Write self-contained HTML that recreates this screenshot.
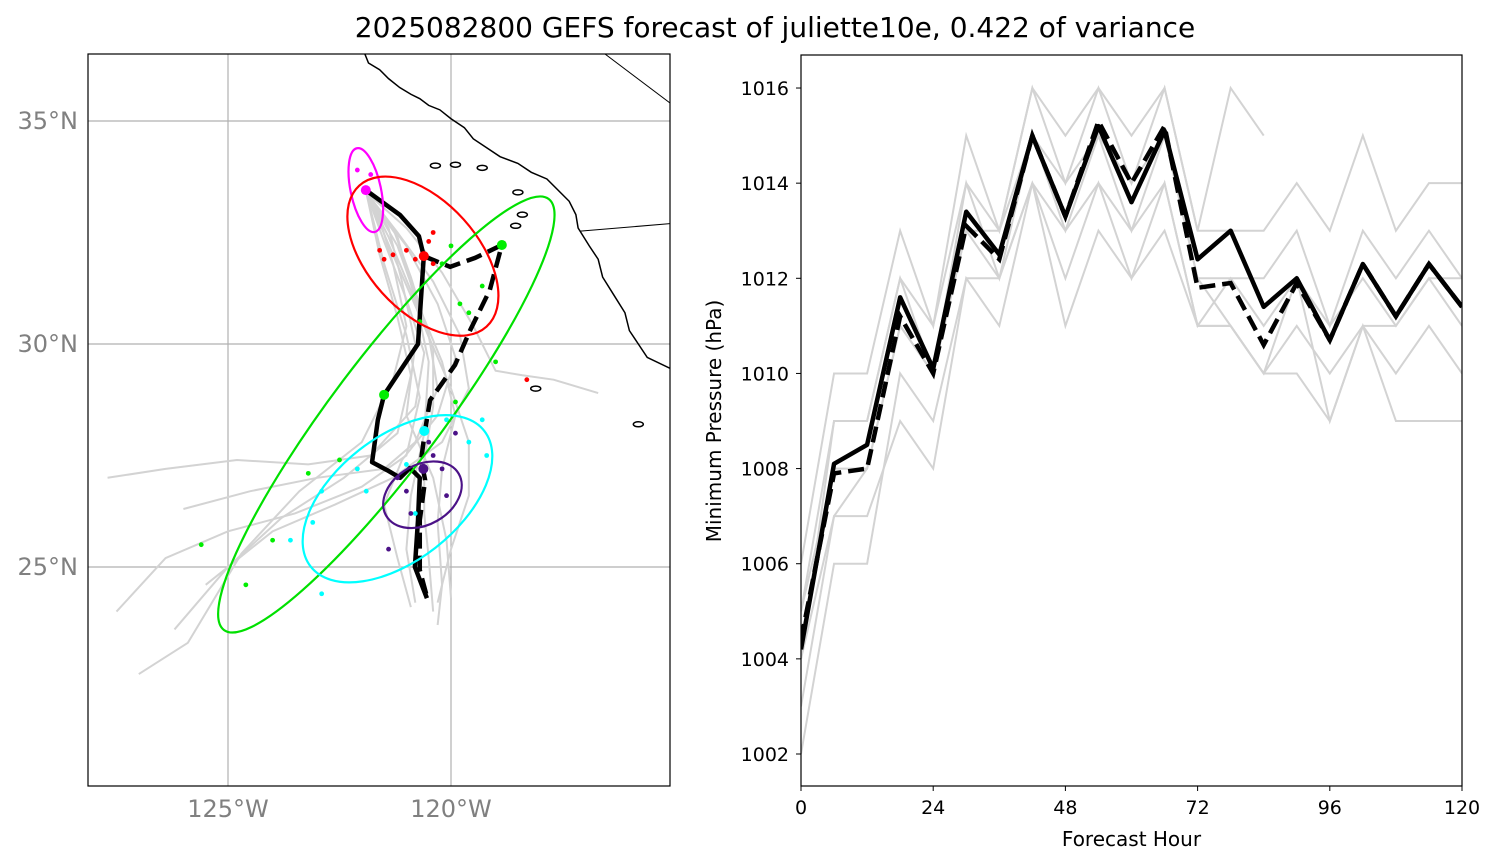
<!DOCTYPE html>
<html><head><meta charset="utf-8"><style>
html,body{margin:0;padding:0;background:#fff;}
svg{display:block;font-family:"DejaVu Sans","Liberation Sans",sans-serif;}
</style></head><body>
<svg id="fig" width="1496" height="865" viewBox="0 0 1496 865">
<text x="775" y="37" text-anchor="middle" font-size="28">2025082800 GEFS forecast of juliette10e, 0.422 of variance</text>
<g id="map"></g>
<g id="pres"></g>
</svg>
<script>
// ---------- MAP DATA ----------
const lonTicks=[-125,-120];
const latTicks=[25,30,35];
const solidLon=[-121.91,-121.14,-120.72,-120.61,-120.74,-121.50,-121.64,-121.77,-121.43,-121.14,-120.92,-120.70,-120.74,-120.81,-120.54];
const solidLat=[33.45,32.89,32.42,31.97,30.0,28.86,28.30,27.35,27.17,27.0,27.22,27.0,26.05,25.0,24.30];
const dashLon=[-120.61,-120.02,-119.46,-118.86,-119.13,-119.57,-119.91,-120.47,-120.58,-120.67,-120.58,-120.70,-120.70,-120.52];
const dashLat=[31.97,31.73,31.93,32.22,31.21,30.31,29.53,28.74,28.07,27.40,26.95,26.05,24.93,24.26];
const grayTracks=[
 [[-121.9,33.4],[-121.3,32.6],[-120.9,31.5],[-120.5,30.2],[-120.3,29.0],[-120.8,27.8],[-121.5,27.2],[-123.0,27.0],[-124.5,26.7],[-126.0,26.3]],
 [[-121.9,33.4],[-121.2,32.5],[-120.4,31.4],[-119.8,30.2],[-119.6,29.0],[-120.2,27.8],[-121.3,27.0],[-122.6,26.4],[-124.0,25.8],[-125.5,24.6]],
 [[-121.9,33.4],[-121.5,32.3],[-121.0,31.0],[-120.6,29.8],[-120.8,28.6],[-121.8,27.5],[-123.2,27.3],[-124.8,27.4],[-126.4,27.2],[-127.7,27.0]],
 [[-121.9,33.4],[-121.0,32.6],[-120.2,31.6],[-119.5,30.4],[-119.0,29.4],[-118.4,29.3],[-117.7,29.2],[-116.7,28.9]],
 [[-121.9,33.4],[-121.4,32.4],[-120.9,31.2],[-120.4,29.9],[-120.4,28.6],[-120.6,27.4],[-120.6,26.2],[-120.5,25.2],[-120.4,24.0]],
 [[-121.9,33.4],[-121.2,32.2],[-120.7,30.8],[-120.2,29.6],[-119.9,28.4],[-120.2,27.2],[-120.3,26.0],[-120.2,24.6],[-120.3,23.7]],
 [[-121.9,33.4],[-121.6,32.0],[-121.2,30.6],[-120.9,29.3],[-121.2,28.0],[-122.4,27.0],[-123.8,26.1],[-125.0,25.0],[-126.2,23.6]],
 [[-121.9,33.4],[-121.3,32.0],[-120.6,30.4],[-120.0,29.0],[-119.6,27.8],[-119.6,26.6],[-120.0,25.4],[-120.3,24.2]],
 [[-121.9,33.4],[-121.5,31.8],[-121.0,30.2],[-120.7,28.8],[-121.0,27.5],[-122.0,26.8],[-123.5,26.2],[-125.0,25.8],[-126.4,25.2],[-127.5,24.0]],
 [[-121.9,33.4],[-121.0,32.2],[-120.3,30.9],[-119.9,29.7],[-120.3,28.4],[-121.1,27.4],[-121.5,26.4],[-121.2,25.2],[-120.9,24.1]],
 [[-121.9,33.4],[-121.6,32.8],[-121.3,31.8],[-121.0,30.4],[-121.3,29.2],[-122.0,27.8],[-123.4,26.7],[-124.7,25.3],[-125.9,23.3],[-127.0,22.6]],
 [[-121.9,33.4],[-121.2,32.4],[-120.8,31.0],[-120.5,29.6],[-120.6,28.0],[-120.9,26.6],[-121.0,25.4],[-120.8,24.2]],
 [[-121.9,33.4],[-121.4,32.6],[-121.1,31.4],[-120.8,30.0],[-121.0,28.4],[-120.4,27.0],[-120.1,25.6],[-120.0,24.3]]
];
// ellipse: center lon, center lat, semi-axes in degrees, rotation deg
const ellColor=["#ff00ff","#ff0000","#00e000","#00ffff","#4b1287"];
const ellLon=[-121.91,-120.63,-121.45,-121.2,-120.64];
const ellA=[0.34,2.13,6.05,2.47,0.94];
const ellB=[0.96,1.23,1.23,1.39,0.67];
const ellRot=[-12,48,-53,-38,-30];
const ellCLat=[33.45,31.97,28.42,26.53,26.62];
const dotLon=[-122.1,-121.8,-121.6,-121.5,-121.3,-120.5,-120.4,-120.4,-120.8,-121.0,-120.0,-119.3,-118.3,-120.2,-119.8,-119.6,-120.7,-119.9,-119.0,-122.5,-123.2,-124.0,-125.6,-124.6,-120.1,-119.6,-119.3,-121.0,-121.9,-122.9,-123.1,-123.6,-122.1,-122.9,-120.8,-119.2,-120.4,-120.5,-119.9,-120.2,-121.0,-121.2,-120.9,-121.4,-120.1];
const dotLat=[33.9,33.8,32.1,31.9,32.0,32.3,32.5,31.8,31.9,32.1,32.2,31.3,29.2,31.8,30.9,30.7,30.5,28.7,29.6,27.4,27.1,25.6,25.5,24.6,28.3,27.8,28.3,27.3,26.7,26.7,26.0,25.6,27.2,24.4,26.2,27.5,27.5,27.8,28.0,27.2,26.7,27.0,26.2,25.4,26.6];
const dotCol=["#f0f","#f0f","#f00","#f00","#f00","#f00","#f00","#f00","#f00","#f00","#0e0","#0e0","#f00","#0e0","#0e0","#0e0","#0e0","#0e0","#0e0","#0e0","#0e0","#0e0","#0e0","#0e0","#0ff","#0ff","#0ff","#0ff","#0ff","#0ff","#0ff","#0ff","#0ff","#0ff","#0ff","#0ff","#4b1287","#4b1287","#4b1287","#4b1287","#4b1287","#4b1287","#4b1287","#4b1287","#4b1287"];
const bigLon=[-121.91,-120.61,-118.86,-121.50,-120.6,-120.62];
const bigLat=[33.45,31.97,32.22,28.86,28.05,27.2];
const bigCol=["#f0f","#f00","#0e0","#0e0","#0ff","#4b1287"];
const coast=[[-121.93,36.5],[-121.85,36.3],[-121.6,36.15],[-121.4,35.95],[-121.15,35.75],[-120.9,35.6],[-120.7,35.5],[-120.5,35.35],[-120.25,35.25],[-120.0,35.05],[-119.7,34.85],[-119.5,34.6],[-119.2,34.4],[-118.9,34.2],[-118.5,34.05],[-118.2,33.85],[-117.85,33.7],[-117.6,33.45],[-117.35,33.2],[-117.2,32.9],[-117.15,32.6],[-116.9,32.2],[-116.7,31.9],[-116.6,31.5],[-116.35,31.1],[-116.1,30.7],[-116.0,30.3],[-115.8,30.0],[-115.6,29.7],[-115.08,29.45]];
const border=[[-117.1,32.53],[-115.08,32.7]];
const islands=[[-120.35,34.0],[-119.9,34.02],[-119.3,33.95],[-118.5,33.4],[-118.4,32.9],[-118.55,32.65],[-115.8,28.2],[-118.1,29.0]];
// ---------- PRESSURE DATA ----------
const hours=[0,6,12,18,24,30,36,42,48,54,60,66,72,78,84,90,96,102,108,114,120];
const xTicks=[0,24,48,72,96,120];
const yTicks=[1002,1004,1006,1008,1010,1012,1014,1016];
const presSolid=[1004.2,1008.1,1008.5,1011.6,1010.1,1013.4,1012.5,1015.0,1013.3,1015.2,1013.6,1015.1,1012.4,1013.0,1011.4,1012.0,1010.7,1012.3,1011.2,1012.3,1011.4];
const presDash=[1004.4,1007.9,1008.0,1011.2,1010.0,1013.1,1012.4,1015.0,1013.3,1015.3,1014.0,1015.2,1011.8,1011.9,1010.6,1011.9,1010.7,1012.3,1011.2,1012.3,1011.4];
const m1=[1006,1010,1010,1013,1011,1015,1013,1016,1015,1016,1015,1016,1013,1016,1015];
const m2=[1005,1009,1009,1012,1011,1014,1013,1016,1014,1016,1014,1016,1013,1013,1013,1014,1013,1015,1013,1014,1014];
const m3=[1004,1009,1009,1012,1010,1014,1012,1015,1014,1015,1014,1015,1012,1012,1012,1013,1011,1013,1012,1013,1012];
const m4=[1003,1007,1008,1011,1010,1013,1012,1014,1013,1014,1013,1014,1011,1012,1011,1012,1011,1012,1011,1012,1011];
const m5=[1002,1006,1006,1010,1009,1012,1012,1014,1012,1014,1012,1014,1011,1011,1010,1011,1010,1011,1010,1011,1010];
const m6=[1004,1007,1007,1009,1008,1012,1011,1014,1011,1013,1012,1013,1011,1011,1010,1010,1009,1011,1009,1009,1009];
const m7=[1005,1008,1008,1011,1010,1013,1013,1015,1013,1015,1013,1015,1012,1011,1010,1012,1009,1011,1011,1012,1012];
const members=[m1,m2,m3,m4,m5,m6,m7];

const NS="http://www.w3.org/2000/svg";
function mk(parent,tag,attrs){const e=document.createElementNS(NS,tag);for(const k in attrs)e.setAttribute(k,attrs[k]);parent.appendChild(e);return e;}
// ---- map ----
const map=document.getElementById('map');
const MX0=88,MX1=670,MY0=54,MY1=786;
const lonX=l=>228+(l+125)*44.6;
const latY=l=>121-(l-35)*44.6;
const cp=mk(mk(map,'defs',{}),'clipPath',{id:'mclip'});
mk(cp,'rect',{x:MX0,y:MY0,width:MX1-MX0,height:MY1-MY0});
const mg=mk(map,'g',{'clip-path':'url(#mclip)'});
lonTicks.forEach(l=>{const e=mk(mg,'line',{x1:lonX(l),x2:lonX(l),y1:MY0,y2:MY1,stroke:'#b0b0b0','stroke-width':1.2});

});
latTicks.forEach(l=>{const e=mk(mg,'line',{x1:MX0,x2:MX1,y1:latY(l),y2:latY(l),stroke:'#b0b0b0','stroke-width':1.2});

});
const cl=mk(mg,'polyline',{points:coast.map(p=>lonX(p[0])+','+latY(p[1])).join(' '),fill:'none',stroke:'#000','stroke-width':1.5});


islands.forEach(p=>{const e=mk(mg,'ellipse',{cx:lonX(p[0]),cy:latY(p[1]),rx:5,ry:2.5,fill:'none',stroke:'#000','stroke-width':1.5});

});
const bl=mk(mg,'polyline',{points:border.map(p=>lonX(p[0])+','+latY(p[1])).join(' '),fill:'none',stroke:'#000','stroke-width':1});


mk(mg,'line',{x1:605,y1:54,x2:670,y2:103,stroke:'#000','stroke-width':1});
grayTracks.forEach(t=>{const e=mk(mg,'polyline',{points:t.map(p=>lonX(p[0])+','+latY(p[1])).join(' '),fill:'none',stroke:'#d3d3d3','stroke-width':2});

});
const st=mk(mg,'polyline',{points:solidLon.map((l,i)=>lonX(l)+','+latY(solidLat[i])).join(' '),fill:'none',stroke:'#000','stroke-width':4.5,'stroke-linejoin':'round'});


const dt=mk(mg,'polyline',{points:dashLon.map((l,i)=>lonX(l)+','+latY(dashLat[i])).join(' '),fill:'none',stroke:'#000','stroke-width':4.5,'stroke-dasharray':'16 7'});


dotLon.forEach((l,i)=>{const e=mk(mg,'circle',{cx:lonX(l),cy:latY(dotLat[i]),r:2.4,fill:dotCol[i]});

});
bigLon.forEach((l,i)=>{const e=mk(mg,'circle',{cx:lonX(l),cy:latY(bigLat[i]),r:5,fill:bigCol[i]});

});
ellLon.forEach((l,i)=>{const cx=lonX(l),cy=latY(ellCLat[i]);
const e=mk(mg,'ellipse',{cx:cx,cy:cy,rx:ellA[i]*44.6,ry:ellB[i]*44.6,fill:'none',stroke:ellColor[i],'stroke-width':2.2,transform:`rotate(${ellRot[i]} ${cx} ${cy})`});

});
const fr=mk(map,'rect',{x:MX0,y:MY0,width:MX1-MX0,height:MY1-MY0,fill:'none',stroke:'#000','stroke-width':1.2});


lonTicks.forEach(l=>{const e=mk(map,'text',{x:lonX(l),y:817,'text-anchor':'middle','font-size':24,fill:'#808080'});e.textContent=Math.abs(l)+'°W';

});
latTicks.forEach(l=>{const e=mk(map,'text',{x:78,y:latY(l)+8,'text-anchor':'end','font-size':24,fill:'#808080'});e.textContent=l+'°N';

});
// ---- pressure ----
const pr=document.getElementById('pres');
const PX0=801,PX1=1462,PY0=55,PY1=786;
const hx=h=>PX0+h*(PX1-PX0)/120;
const py=p=>754-(p-1002)*47.57;
const cp2=mk(mk(pr,'defs',{}),'clipPath',{id:'pclip'});
mk(cp2,'rect',{x:PX0,y:PY0,width:PX1-PX0,height:PY1-PY0});
const pg=mk(pr,'g',{'clip-path':'url(#pclip)'});
members.forEach(m=>{const e=mk(pg,'polyline',{points:m.map((v,i)=>hx(hours[i])+','+py(v)).join(' '),fill:'none',stroke:'#d3d3d3','stroke-width':2});

});
const pd=mk(pg,'polyline',{points:presDash.map((v,i)=>hx(hours[i])+','+py(v)).join(' '),fill:'none',stroke:'#000','stroke-width':4.5,'stroke-dasharray':'16 7'});


const ps=mk(pg,'polyline',{points:presSolid.map((v,i)=>hx(hours[i])+','+py(v)).join(' '),fill:'none',stroke:'#000','stroke-width':4.5,'stroke-linejoin':'round'});


const pf=mk(pr,'rect',{x:PX0,y:PY0,width:PX1-PX0,height:PY1-PY0,fill:'none',stroke:'#000','stroke-width':1.2});


xTicks.forEach(t=>{mk(pr,'line',{x1:hx(t),x2:hx(t),y1:PY1,y2:PY1+5,stroke:'#000'});
const e=mk(pr,'text',{x:hx(t),y:PY1+28,'text-anchor':'middle','font-size':19});e.textContent=t;

});
yTicks.forEach(t=>{mk(pr,'line',{x1:PX0-5,x2:PX0,y1:py(t),y2:py(t),stroke:'#000'});
const e=mk(pr,'text',{x:PX0-12,y:py(t)+7,'text-anchor':'end','font-size':19});e.textContent=t;

});
const xl=mk(pr,'text',{x:(PX0+PX1)/2,y:846,'text-anchor':'middle','font-size':20});xl.textContent='Forecast Hour';


const yl=mk(pr,'text',{x:721,y:421,'text-anchor':'middle','font-size':20,transform:'rotate(-90 721 421)'});yl.textContent='Minimum Pressure (hPa)';


</script>
</body></html>
